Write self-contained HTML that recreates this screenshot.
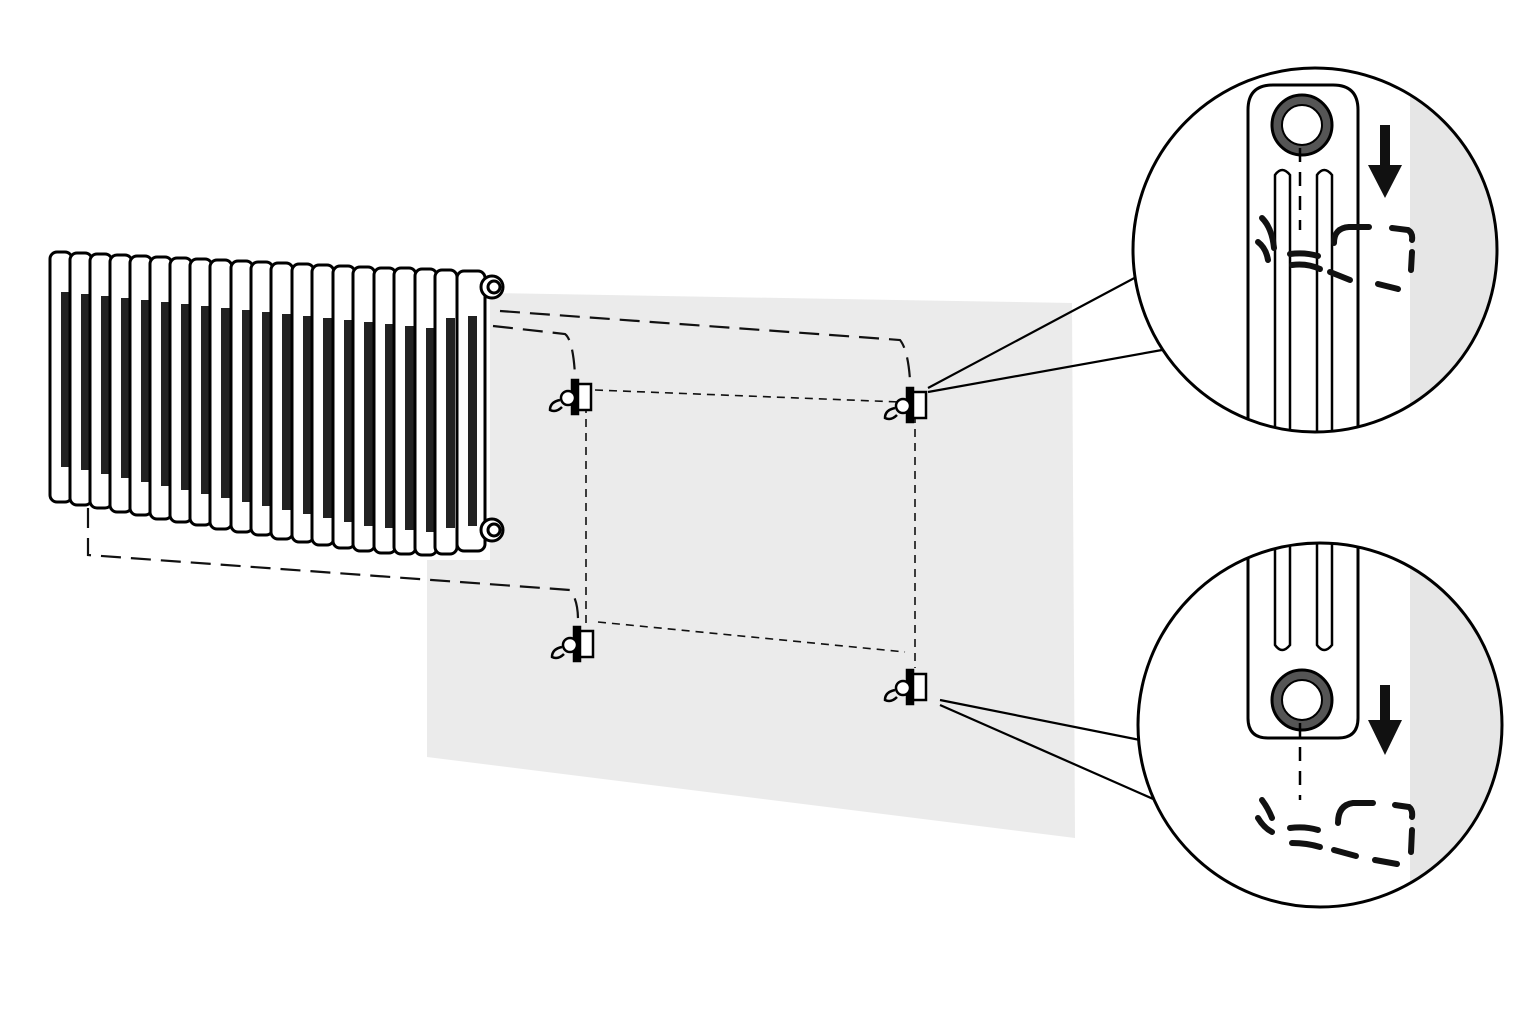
<!DOCTYPE html>
<html><head><meta charset="utf-8"><style>html,body{margin:0;padding:0;background:#fff}svg{display:block}</style></head>
<body>
<svg width="1536" height="1024" viewBox="0 0 1536 1024" xmlns="http://www.w3.org/2000/svg">
<rect width="1536" height="1024" fill="#fff"/>
<polygon points="490,293 1072,303 1075,838 427,757 427,560 490,560" fill="#ebebeb"/>
<g fill="none" stroke="#111" stroke-width="2.2" stroke-dasharray="20,10">
<path d="M493,326 L565,334 Q573,340 575,375"/>
<path d="M500,311 L900,340 Q908,350 910,380"/>
<path d="M88,508 L88,555 L570,590 Q578,600 578,620"/>
</g>
<g fill="none" stroke="#111" stroke-width="1.6" stroke-dasharray="8,6">
<path d="M595,390 L900,402"/>
<path d="M586,405 L586,625"/>
<path d="M598,622 L905,652"/>
<path d="M915,415 L915,668"/>
</g>
<g fill="#fff" stroke="#000" stroke-width="2.5">
<g transform="translate(572,398)"><rect x="5" y="-14" width="14" height="26"/><rect x="0" y="-18" width="6" height="34" fill="#000"/><circle cx="-4" cy="0" r="7"/><path d="M-12,2 q-10,2 -10,10 q6,3 12,-3" fill="none"/></g>
<g transform="translate(907,406)"><rect x="5" y="-14" width="14" height="26"/><rect x="0" y="-18" width="6" height="34" fill="#000"/><circle cx="-4" cy="0" r="7"/><path d="M-12,2 q-10,2 -10,10 q6,3 12,-3" fill="none"/></g>
<g transform="translate(574,645)"><rect x="5" y="-14" width="14" height="26"/><rect x="0" y="-18" width="6" height="34" fill="#000"/><circle cx="-4" cy="0" r="7"/><path d="M-12,2 q-10,2 -10,10 q6,3 12,-3" fill="none"/></g>
<g transform="translate(907,688)"><rect x="5" y="-14" width="14" height="26"/><rect x="0" y="-18" width="6" height="34" fill="#000"/><circle cx="-4" cy="0" r="7"/><path d="M-12,2 q-10,2 -10,10 q6,3 12,-3" fill="none"/></g>
</g>
<g stroke="#000" stroke-width="2.2">
<line x1="928" y1="388" x2="1140" y2="275"/>
<line x1="928" y1="392" x2="1162" y2="350"/>
<line x1="940" y1="700" x2="1140" y2="740"/>
<line x1="940" y1="705" x2="1160" y2="802"/>
</g>
<defs>
<clipPath id="c1"><circle cx="1315" cy="250" r="182"/></clipPath>
<clipPath id="c2"><circle cx="1320" cy="725" r="182"/></clipPath>
</defs>
<circle cx="1315" cy="250" r="182" fill="#fff"/>
<g clip-path="url(#c1)">
<rect x="1410" y="60" width="120" height="400" fill="#e6e6e6"/>
<path d="M1248,440 L1248,110 Q1248,85 1273,85 L1333,85 Q1358,85 1358,110 L1358,440" fill="#fff" stroke="#000" stroke-width="3"/>
<path d="M1275,440 L1275,175 Q1282,165 1290,175 L1290,440 M1317,440 L1317,175 Q1324,165 1332,175 L1332,440" fill="none" stroke="#000" stroke-width="2.5"/>
<circle cx="1302" cy="125" r="30" fill="#555" stroke="#000" stroke-width="3"/>
<circle cx="1302" cy="125" r="20" fill="#fff" stroke="#000" stroke-width="2"/>
<line x1="1300" y1="148" x2="1300" y2="230" stroke="#000" stroke-width="2.5" stroke-dasharray="14,10"/>
<rect x="1380" y="125" width="10" height="45" fill="#111"/>
<polygon points="1368,165 1402,165 1385,198" fill="#111"/>
<g fill="none" stroke="#111" stroke-width="6" stroke-linecap="round">
<path d="M1262,218 q10,10 12,30"/><path d="M1258,242 q8,6 10,18"/>
<path d="M1290,254 q15,-2 28,2"/><path d="M1292,265 q15,-2 28,4"/>
<path d="M1334,243 q0,-15 15,-16 l20,0"/>
<path d="M1392,228 l16,2 q5,3 4,10"/><path d="M1412,252 l-1,18"/>
<path d="M1378,284 l20,5"/><path d="M1330,272 l20,8"/>
</g>
</g>
<circle cx="1315" cy="250" r="182" fill="none" stroke="#000" stroke-width="3"/>
<circle cx="1320" cy="725" r="182" fill="#fff"/>
<g clip-path="url(#c2)">
<rect x="1410" y="530" width="120" height="400" fill="#e6e6e6"/>
<path d="M1248,530 L1248,718 Q1248,738 1268,738 L1338,738 Q1358,738 1358,718 L1358,530" fill="#fff" stroke="#000" stroke-width="3"/>
<path d="M1275,530 L1275,645 Q1282,655 1290,645 L1290,530 M1317,530 L1317,645 Q1324,655 1332,645 L1332,530" fill="none" stroke="#000" stroke-width="2.5"/>
<circle cx="1302" cy="700" r="30" fill="#555" stroke="#000" stroke-width="3"/>
<circle cx="1302" cy="700" r="20" fill="#fff" stroke="#000" stroke-width="2"/>
<line x1="1300" y1="723" x2="1300" y2="800" stroke="#000" stroke-width="2.5" stroke-dasharray="14,10"/>
<rect x="1380" y="685" width="10" height="40" fill="#111"/>
<polygon points="1368,720 1402,720 1385,755" fill="#111"/>
<g fill="none" stroke="#111" stroke-width="6" stroke-linecap="round">
<path d="M1262,800 q6,8 10,18"/><path d="M1258,818 q6,10 14,14"/>
<path d="M1290,828 q15,-2 28,2"/><path d="M1292,843 q15,0 28,4"/>
<path d="M1338,823 q0,-18 15,-20 l20,0"/>
<path d="M1395,805 l14,2 q4,3 3,10"/><path d="M1412,830 l-1,22"/>
<path d="M1375,860 l22,4"/><path d="M1334,850 l22,6"/>
</g>
</g>
<circle cx="1320" cy="725" r="182" fill="none" stroke="#000" stroke-width="3"/>
<g stroke="#000" stroke-width="3" stroke-linejoin="round">
<rect x="50" y="252" width="22" height="250" rx="7" fill="#fff"/><rect x="61" y="292" width="9" height="175" fill="#222" stroke="none"/>
<rect x="70" y="253" width="22" height="252" rx="7" fill="#fff"/><rect x="81" y="294" width="9" height="176" fill="#222" stroke="none"/>
<rect x="90" y="254" width="22" height="254" rx="7" fill="#fff"/><rect x="101" y="296" width="9" height="178" fill="#222" stroke="none"/>
<rect x="110" y="255" width="22" height="257" rx="7" fill="#fff"/><rect x="121" y="298" width="9" height="180" fill="#222" stroke="none"/>
<rect x="130" y="256" width="22" height="259" rx="7" fill="#fff"/><rect x="141" y="300" width="9" height="182" fill="#222" stroke="none"/>
<rect x="150" y="257" width="22" height="262" rx="7" fill="#fff"/><rect x="161" y="302" width="9" height="184" fill="#222" stroke="none"/>
<rect x="170" y="258" width="22" height="264" rx="7" fill="#fff"/><rect x="181" y="304" width="9" height="186" fill="#222" stroke="none"/>
<rect x="190" y="259" width="22" height="266" rx="7" fill="#fff"/><rect x="201" y="306" width="9" height="188" fill="#222" stroke="none"/>
<rect x="210" y="260" width="22" height="269" rx="7" fill="#fff"/><rect x="221" y="308" width="9" height="190" fill="#222" stroke="none"/>
<rect x="231" y="261" width="22" height="271" rx="7" fill="#fff"/><rect x="242" y="310" width="9" height="192" fill="#222" stroke="none"/>
<rect x="251" y="262" width="22" height="273" rx="7" fill="#fff"/><rect x="262" y="312" width="9" height="194" fill="#222" stroke="none"/>
<rect x="271" y="263" width="22" height="276" rx="7" fill="#fff"/><rect x="282" y="314" width="9" height="196" fill="#222" stroke="none"/>
<rect x="292" y="264" width="22" height="278" rx="7" fill="#fff"/><rect x="303" y="316" width="9" height="198" fill="#222" stroke="none"/>
<rect x="312" y="265" width="22" height="280" rx="7" fill="#fff"/><rect x="323" y="318" width="9" height="200" fill="#222" stroke="none"/>
<rect x="333" y="266" width="22" height="282" rx="7" fill="#fff"/><rect x="344" y="320" width="9" height="202" fill="#222" stroke="none"/>
<rect x="353" y="267" width="22" height="284" rx="7" fill="#fff"/><rect x="364" y="322" width="9" height="204" fill="#222" stroke="none"/>
<rect x="374" y="268" width="22" height="285" rx="7" fill="#fff"/><rect x="385" y="324" width="9" height="204" fill="#222" stroke="none"/>
<rect x="394" y="268" width="22" height="286" rx="7" fill="#fff"/><rect x="405" y="326" width="9" height="204" fill="#222" stroke="none"/>
<rect x="415" y="269" width="22" height="286" rx="7" fill="#fff"/><rect x="426" y="328" width="9" height="204" fill="#222" stroke="none"/>
<rect x="435" y="270" width="22" height="284" rx="7" fill="#fff"/><rect x="446" y="318" width="9" height="210" fill="#222" stroke="none"/>
<rect x="457" y="271" width="28" height="280" rx="7" fill="#fff"/><rect x="468" y="316" width="9" height="210" fill="#222" stroke="none"/>
<circle cx="492" cy="287" r="11" fill="#fff"/><circle cx="494" cy="287" r="6" fill="#fff"/>
<circle cx="492" cy="530" r="11" fill="#fff"/><circle cx="494" cy="530" r="6" fill="#fff"/>
</g>
</svg>
</body></html>
